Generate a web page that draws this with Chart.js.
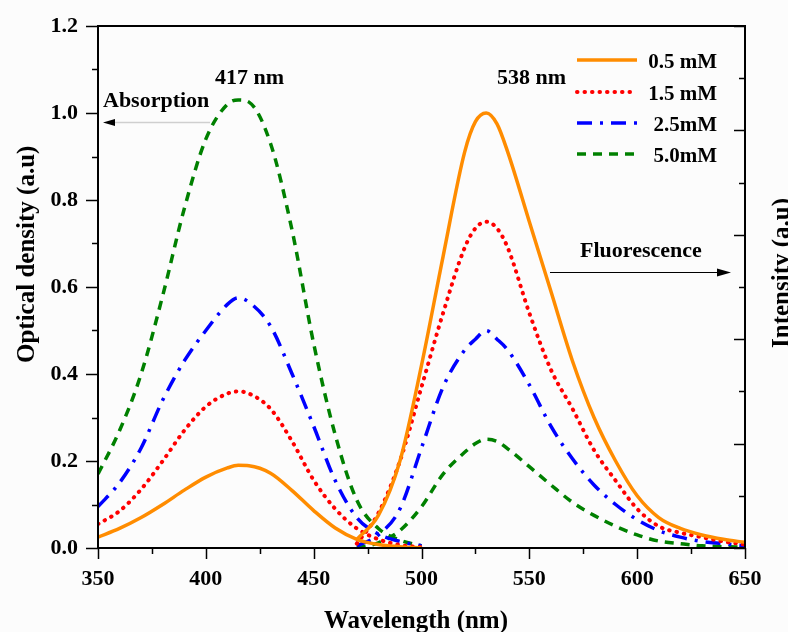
<!DOCTYPE html>
<html>
<head>
<meta charset="utf-8">
<script src="https://cdn.jsdelivr.net/npm/chart.js@4"></script>
<style>
  body { margin: 0; background: #fcfcfc; }
  canvas { display: block; }
</style>
</head>
<body>
<canvas id="chart1" width="788" height="632"></canvas>
<script>
// wavelengths (nm)
var wlAbs = [350, 360, 370, 380, 390, 400, 410, 415, 420, 430, 440, 450, 460, 470, 480, 490, 500];
var wlFl = [470, 480, 490, 500, 510, 520, 525, 530, 535, 540, 550, 560, 570, 580, 590, 600, 610, 620, 630, 640, 650];

// absorption (optical density)
var abs05 = [0.025, 0.045, 0.07, 0.10, 0.133, 0.163, 0.184, 0.19, 0.189, 0.172, 0.132, 0.086, 0.046, 0.02, 0.008, 0.003, 0.0];
var abs15 = [0.055, 0.085, 0.135, 0.20, 0.27, 0.325, 0.355, 0.36, 0.355, 0.32, 0.245, 0.156, 0.09, 0.045, 0.02, 0.007, 0.002];
var abs25 = [0.095, 0.15, 0.23, 0.34, 0.43, 0.50, 0.56, 0.575, 0.565, 0.51, 0.40, 0.28, 0.155, 0.07, 0.032, 0.015, 0.005];
var abs50 = [0.17, 0.27, 0.40, 0.58, 0.78, 0.94, 1.02, 1.03, 1.025, 0.93, 0.73, 0.47, 0.26, 0.11, 0.045, 0.018, 0.005];

// fluorescence (normalised intensity)
var fl05 = [0.02, 0.075, 0.20, 0.42, 0.67, 0.91, 0.98, 1.0, 0.975, 0.91, 0.75, 0.59, 0.43, 0.30, 0.20, 0.12, 0.07, 0.045, 0.03, 0.02, 0.013];
var fl15 = [0.01, 0.08, 0.20, 0.37, 0.54, 0.69, 0.735, 0.75, 0.735, 0.69, 0.54, 0.41, 0.32, 0.225, 0.155, 0.09, 0.05, 0.035, 0.025, 0.015, 0.008];
var fl25 = [0.005, 0.03, 0.09, 0.23, 0.37, 0.455, 0.48, 0.50, 0.48, 0.455, 0.375, 0.28, 0.205, 0.145, 0.10, 0.065, 0.04, 0.025, 0.015, 0.01, 0.005];
var fl50 = [0.0, 0.012, 0.04, 0.095, 0.17, 0.22, 0.24, 0.25, 0.245, 0.228, 0.187, 0.145, 0.105, 0.075, 0.05, 0.03, 0.016, 0.01, 0.005, 0.003, 0.002];

var concLabels = ["0.5 mM", "1.5 mM", "2.5mM", "5.0mM"];
var absSeries = [abs05, abs15, abs25, abs50];
var flSeries = [fl05, fl15, fl25, fl50];

var styles = [
	{ color: "#ff8c00", dash: [], cap: "butt", width: 3.5 },
	{ color: "#ff0000", dash: [0.5, 7], cap: "round", width: 4 },
	{ color: "#0000ff", dash: [15, 8, 3, 8], cap: "butt", width: 3.5 },
	{ color: "#008000", dash: [9, 7], cap: "butt", width: 3.5 }
];

var FONT = "'Liberation Serif', 'Times New Roman', serif";

function toPoints(xs, ys) {
	return xs.map(function (x, i) { return { x: x, y: ys[i] }; });
}

var datasets = [];
for (var i = 0; i < 4; i++) {
	var s = styles[i];
	[toPoints(wlAbs, absSeries[i]), toPoints(wlFl, flSeries[i])].forEach(function (pts) {
		datasets.push({
			label: concLabels[i],
			data: pts,
			borderColor: s.color,
			borderWidth: s.width,
			borderDash: s.dash,
			borderCapStyle: s.cap,
			pointRadius: 0,
			fill: false,
			cubicInterpolationMode: "monotone"
		});
	});
}

var decor = {
	id: "decor",
	beforeDraw: function (chart) {
		var c = chart.ctx;
		c.save();
		c.fillStyle = "#fcfcfc";
		c.fillRect(0, 0, chart.width, chart.height);
		c.restore();
	},
	afterDraw: function (chart) {
		var c = chart.ctx;
		var a = chart.chartArea;
		var xs = chart.scales.x, ys = chart.scales.y;
		c.save();

		// frame
		c.strokeStyle = "#000";
		c.lineWidth = 2;
		c.setLineDash([]);
		c.strokeRect(a.left, a.top, a.right - a.left, a.bottom - a.top);

		// bottom ticks
		c.lineWidth = 1.5;
		for (var v = 350; v <= 650; v += 25) {
			var px = Math.round(xs.getPixelForValue(v)) + 0.5;
			var len = v % 50 === 0 ? 11 : 6;
			c.beginPath(); c.moveTo(px, a.bottom); c.lineTo(px, a.bottom + len); c.stroke();
		}
		// left ticks
		for (var k = 0; k <= 12; k++) {
			var py = Math.round(ys.getPixelForValue(k / 10)) + 0.5;
			var l2 = k % 2 === 0 ? 12 : 6;
			c.beginPath(); c.moveTo(a.left, py); c.lineTo(a.left - l2, py); c.stroke();
		}
		// right ticks (inward)
		for (var k2 = 0; k2 <= 10; k2++) {
			var py2 = Math.round(ys.getPixelForValue(k2 * 0.12)) + 0.5;
			var l3 = k2 % 2 === 0 ? 11 : 6;
			c.beginPath(); c.moveTo(a.right, py2); c.lineTo(a.right - l3, py2); c.stroke();
		}

		// axis titles
		c.fillStyle = "#000";
		c.font = "bold 25px " + FONT;
		c.textAlign = "center";
		c.textBaseline = "alphabetic";
		c.fillText("Wavelength (nm)", 416, 628);

		c.save();
		c.translate(34, 363);
		c.rotate(-Math.PI / 2);
		c.textAlign = "left";
		c.fillText("Optical density (a.u)", 0, 0);
		c.restore();

		c.save();
		c.translate(789, 348);
		c.rotate(-Math.PI / 2);
		c.textAlign = "left";
		c.fillText("Intensity (a.u)", 0, 0);
		c.restore();

		// annotations
		c.font = "bold 22px " + FONT;
		c.textAlign = "left";
		c.fillText("417 nm", 215, 84);
		c.fillText("538 nm", 497, 84);
		c.fillText("Absorption", 103, 107);
		c.fillText("Fluorescence", 580, 257);

		// absorption arrow (grey shaft, black head pointing left)
		c.strokeStyle = "#cfcfcf";
		c.lineWidth = 1.5;
		c.beginPath(); c.moveTo(112, 122.5); c.lineTo(210, 122.5); c.stroke();
		c.fillStyle = "#000";
		c.beginPath(); c.moveTo(103, 122.5); c.lineTo(115, 119); c.lineTo(115, 126); c.closePath(); c.fill();

		// fluorescence arrow
		c.strokeStyle = "#000";
		c.lineWidth = 1;
		c.beginPath(); c.moveTo(550, 272.5); c.lineTo(720, 272.5); c.stroke();
		c.beginPath(); c.moveTo(731, 272.5); c.lineTo(717, 268.5); c.lineTo(717, 276.5); c.closePath(); c.fill();

		// legend
		var rowY = [60, 92, 123, 154];
		c.font = "bold 21px " + FONT;
		c.textAlign = "right";
		for (var r = 0; r < 4; r++) {
			var st = styles[r];
			c.strokeStyle = st.color;
			c.lineWidth = st.width;
			c.lineCap = st.cap;
			c.setLineDash(st.dash);
			c.beginPath(); c.moveTo(577, rowY[r]); c.lineTo(637, rowY[r]); c.stroke();
			c.setLineDash([]);
			c.fillStyle = "#000";
			c.fillText(concLabels[r], 717, rowY[r] + 8);
		}
		c.restore();
	}
};

var ctx = document.getElementById("chart1").getContext("2d");
var chartdata = {
	type: "line",
	data: { datasets: datasets },
	options: {
		responsive: false,
		animation: false,
		layout: { padding: { top: 26, right: 43, left: 0, bottom: 0 } },
		plugins: { legend: { display: false }, tooltip: { enabled: false } },
		scales: {
			x: {
				type: "linear",
				min: 350,
				max: 650,
				grid: { display: false },
				border: { display: false },
				afterFit: function (scale) { scale.height = 84; },
				ticks: {
					stepSize: 25,
					autoSkip: false,
					maxRotation: 0,
					padding: 10,
					color: "#000",
					font: { family: FONT, size: 22, weight: "bold" },
					callback: function (v) { return v % 50 === 0 ? String(v) : ""; }
				}
			},
			y: {
				min: 0,
				max: 1.2,
				grid: { display: false },
				border: { display: false },
				afterFit: function (scale) { scale.width = 98; },
				ticks: {
					stepSize: 0.1,
					autoSkip: false,
					padding: 12,
					color: "#000",
					font: { family: FONT, size: 22, weight: "bold" },
					callback: function (v) { return Math.round(v * 10) % 2 === 0 ? v.toFixed(1) : ""; }
				}
			}
		}
	},
	plugins: [decor]
};

new Chart(ctx, chartdata);
</script>
</body>
</html>
